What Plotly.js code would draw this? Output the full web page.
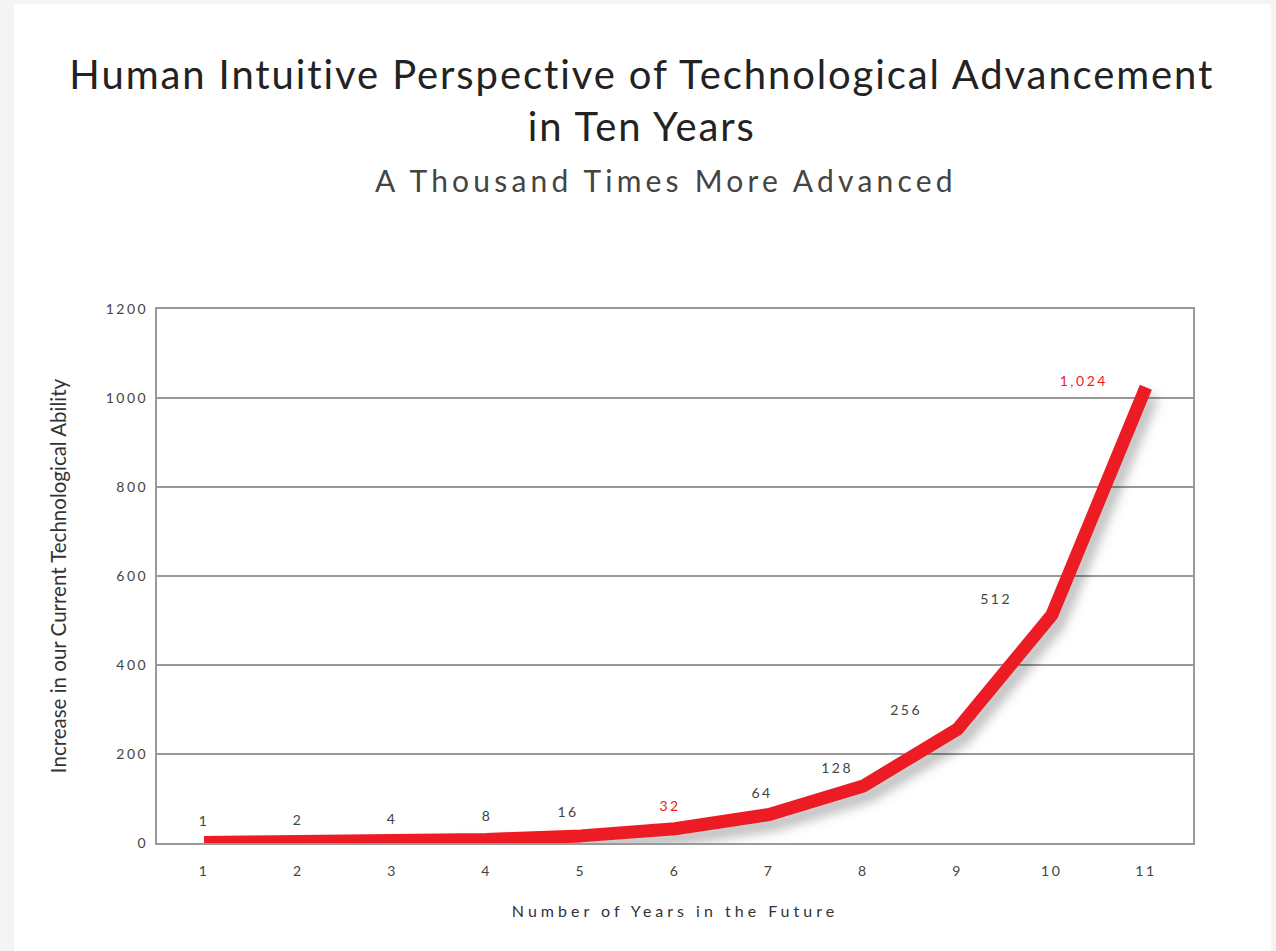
<!DOCTYPE html>
<html>
<head>
<meta charset="utf-8">
<script src="https://cdn.plot.ly/plotly-3.0.1.min.js"></script>
<style>
  html, body { margin: 0; padding: 0; background: #f4f4f4; }
  #chart { width: 1276px; height: 951px; }
</style>
</head>
<body>
<div id="chart"></div>
<script>
// ---- data ----
const years = [1, 2, 3, 4, 5, 6, 7, 8, 9, 10, 11];
const ability = [1, 2, 4, 8, 16, 32, 64, 128, 256, 512, 1024];
const valueLabels = ['1', '2', '4', '8', '16', '32', '64', '128', '256', '512', '1,024'];
const highlighted = [false, false, false, false, false, true, false, false, false, false, true];
const yTicks = [0, 200, 400, 600, 800, 1000, 1200];

// ---- label placement (pixel offsets, style only) ----
const labelDx = [0, 0, 0, 0, -13, -5, -7, -26, -52, -56, -62];
const labelDy = [22, 23, 23, 24, 24, 23, 22, 19, 20, 17, 7];

const RED = '#ed1c24';
const GREY = '#444444';
const FONT = 'Lato, sans-serif';

const annotations = years.map((x, i) => ({
  x: x, y: ability[i], xref: 'x', yref: 'y',
  xanchor: 'center', yanchor: 'middle',
  text: valueLabels[i], showarrow: false,
  xshift: labelDx[i], yshift: labelDy[i],
  font: { family: FONT, size: 14, color: highlighted[i] ? RED : GREY }
}));

annotations.push({
  xref: 'paper', yref: 'paper', x: (666 - 157) / 1036, y: (843 - 180) / 534,
  xanchor: 'center', yanchor: 'middle',
  text: 'A Thousand Times More Advanced', showarrow: false,
  font: { family: FONT, size: 30, color: '#444444' }
});

const trace = {
  x: years, y: ability, type: 'scatter', mode: 'lines',
  line: { color: RED, width: 13 },
  hoverinfo: 'skip'
};

const layout = {
  width: 1276, height: 951,
  margin: { l: 157, r: 83, t: 309, b: 108 },
  paper_bgcolor: '#f4f4f4',
  plot_bgcolor: '#ffffff',
  showlegend: false,
  title: {
    text: 'Human Intuitive Perspective of Technological Advancement<br>in Ten Years',
    x: 0.503, xanchor: 'center', y: 1 - 89 / 951, yanchor: 'middle',
    font: { family: FONT, size: 40, color: '#222222' }
  },
  xaxis: {
    range: [0.5, 11.5],
    tickvals: years, ticktext: years.map(String),
    showgrid: false, zeroline: false,
    showline: true, mirror: true, linecolor: '#999999', linewidth: 2,
    ticks: '', ticklabelstandoff: 14,
    tickfont: { family: FONT, size: 14, color: GREY },
    title: { text: 'Number of Years in the Future', standoff: 28,
      font: { family: FONT, size: 16, color: '#333333' } }
  },
  yaxis: {
    range: [0, 1200], tickvals: yTicks, ticktext: yTicks.map(String),
    showgrid: true, gridcolor: '#999999', gridwidth: 1.5,
    zeroline: false,
    showline: true, mirror: true, linecolor: '#999999', linewidth: 2,
    ticks: '', ticklabelstandoff: 4,
    tickfont: { family: FONT, size: 14, color: GREY },
    title: { text: 'Increase in our Current Technological Ability', standoff: 44,
      font: { family: FONT, size: 20.5, color: '#333333' } }
  },
  shapes: [{
    type: 'rect', xref: 'paper', yref: 'paper', layer: 'below',
    x0: (14 - 157) / 1036, x1: (1271 - 157) / 1036,
    y0: (843 - 960) / 534, y1: (843 - 4) / 534,
    fillcolor: '#ffffff', line: { width: 0 }
  }],
  annotations: annotations
};

function spacing(selector, px) {
  document.querySelectorAll(selector).forEach(t => { t.style.letterSpacing = px + 'px'; });
}

Plotly.newPlot('chart', [trace], layout, { staticPlot: true, displayModeBar: false }).then(() => {
  document.querySelectorAll('.scatterlayer .trace path.js-line').forEach(p => {
    p.style.filter = 'drop-shadow(6px 9px 6px rgba(0,0,0,0.28))';
    p.style.strokeLinecap = 'butt';
    p.style.strokeLinejoin = 'round';
  });
  spacing('.gtitle', 1.9);
  spacing('.xtick text, .ytick text', 2.5);
  spacing('.g-xtitle text', 4);
  const ann = document.querySelectorAll('.annotation-text');
  ann.forEach((t, i) => { t.style.letterSpacing = (i === ann.length - 1 ? 4.2 : 2.5) + 'px'; });
});
</script>
</body>
</html>
